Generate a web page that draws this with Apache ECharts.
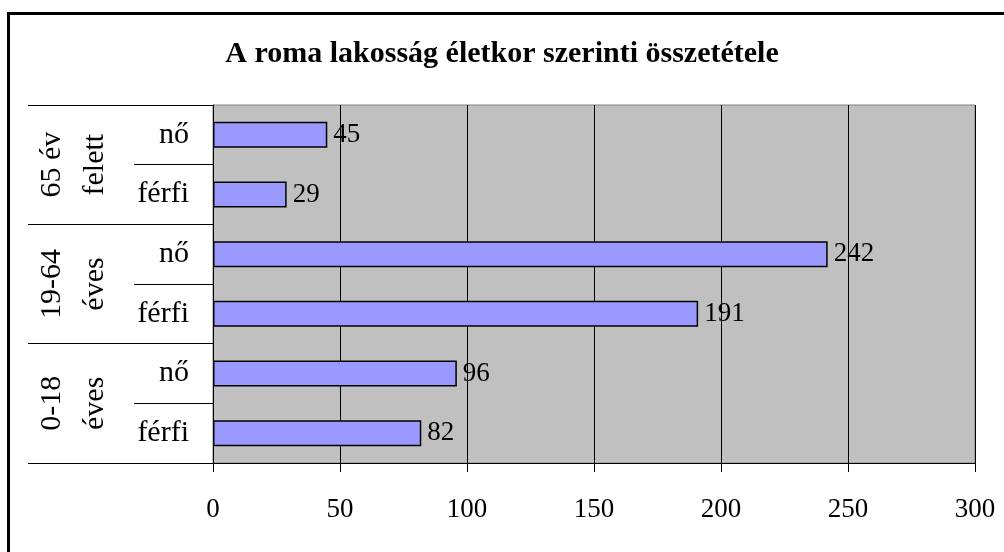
<!DOCTYPE html>
<html lang="hu">
<head>
    <meta charset="UTF-8">
    <title>A roma lakosság életkor szerinti összetétele</title>
    <script src="https://cdn.jsdelivr.net/npm/echarts@6.0.0/dist/echarts.min.js"></script>
    <style>
        html, body { margin: 0; padding: 0; background: #fff; }
        #main { width: 1004px; height: 552px; }
    </style>
</head>
<body>
    <div id="main"></div>
    <script>
        // adatok (alulról felfelé, ahogy az ECharts a kategóriákat rakja)
        var nemek = ['férfi', 'nő', 'férfi', 'nő', 'férfi', 'nő'];
        var korcsoportok = ['0-18\néves', '19-64\néves', '65 év\nfelett'];
        var ertekek = [82, 96, 191, 242, 29, 45];
        var tengelyMax = 300;
        var lepes = 50;

        var betu = 'Liberation Serif';
        var chart = echarts.init(document.getElementById('main'));

        var option = {
            backgroundColor: '#fff',
            animation: false,
            title: {
                text: 'A roma lakosság életkor szerinti összetétele',
                left: 'center',
                top: 34,
                textStyle: { fontFamily: betu, fontSize: 30, fontWeight: 'bold', color: '#000' }
            },
            graphic: [{
                type: 'rect',
                shape: { x: 8.5, y: 13.5, width: 1010, height: 560 },
                style: { fill: 'none', stroke: '#000', lineWidth: 3 },
                silent: true
            }],
            grid: {
                left: 213, right: 29, top: 105, bottom: 89,
                show: true,
                backgroundColor: '#c0c0c0',
                borderColor: '#808080',
                borderWidth: 1
            },
            xAxis: {
                type: 'value',
                min: 0,
                max: tengelyMax,
                interval: lepes,
                axisLine: { show: true, lineStyle: { color: '#000', width: 1 } },
                axisTick: { show: true, length: 9, lineStyle: { color: '#000' } },
                axisLabel: { fontFamily: betu, fontSize: 27, color: '#000', margin: 33 },
                splitLine: { show: true, lineStyle: { color: '#000', width: 1 } }
            },
            yAxis: [{
                type: 'category',
                data: nemek,
                axisLine: { show: true, lineStyle: { color: '#000' } },
                axisTick: { show: true, length: 79, lineStyle: { color: '#000' } },
                axisLabel: { fontFamily: betu, fontSize: 30, color: '#000', margin: 24 }
            }, {
                type: 'category',
                position: 'left',
                data: korcsoportok,
                axisLine: { show: false },
                axisTick: { show: true, length: 185, lineStyle: { color: '#000' } },
                axisLabel: {
                    fontFamily: betu, fontSize: 30, color: '#000',
                    rotate: 90, margin: 96, lineHeight: 43
                }
            }],
            series: [{
                type: 'bar',
                yAxisIndex: 0,
                data: ertekek,
                barWidth: 26,
                itemStyle: { color: '#9999ff', borderColor: '#000', borderWidth: 1.5 },
                label: {
                    show: true,
                    position: 'right',
                    distance: 6,
                    fontFamily: betu, fontSize: 27, color: '#000'
                }
            }]
        };

        chart.setOption(option);
    </script>
</body>
</html>
